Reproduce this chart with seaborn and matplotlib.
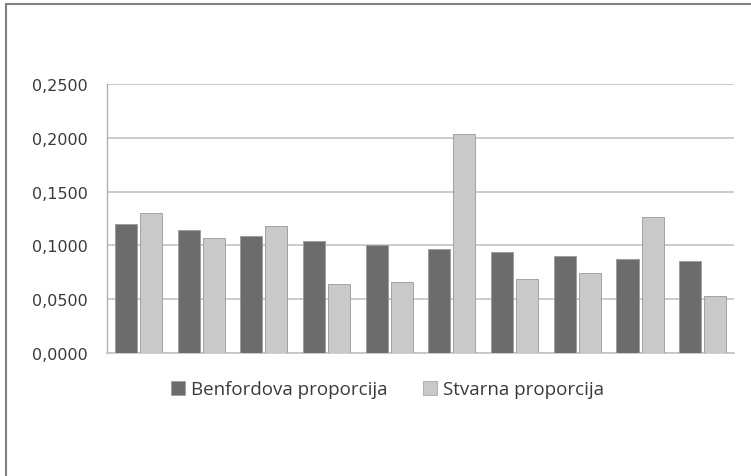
import matplotlib
matplotlib.use("Agg")
import matplotlib.pyplot as plt
from matplotlib.lines import Line2D
import pandas as pd
import seaborn as sns

# Second-digit proportions, digits 0..9
digits = ["0", "1", "2", "3", "4", "5", "6", "7", "8", "9"]
benford = [0.1197, 0.1139, 0.1088, 0.1043, 0.1003, 0.0967, 0.0934, 0.0904, 0.0876, 0.0850]
stvarna = [0.1298, 0.1065, 0.1175, 0.0640, 0.0660, 0.2030, 0.0685, 0.0740, 0.1260, 0.0525]
series = ["Benfordova proporcija", "Stvarna proporcija"]
yticks = [0.0, 0.05, 0.10, 0.15, 0.20, 0.25]

df = pd.DataFrame({
    "digit": digits * 2,
    "value": benford + stvarna,
    "serija": [series[0]] * len(digits) + [series[1]] * len(digits),
})

sns.set_style("white")
plt.rcParams["font.family"] = ["Open Sans", "DejaVu Sans"]

fig = plt.figure(figsize=(7.51, 4.77), dpi=100)
ax = fig.add_axes([0.1425, 0.258, 0.835, 0.564])

colors = ["#6b6c6f", "#c9c9ca"]
sns.barplot(data=df, x="digit", y="value", hue="serija", hue_order=series,
            palette=colors, width=0.8, gap=0.12, ax=ax,
            edgecolor="#9a9a9a", linewidth=0.6, legend=False, zorder=3)

ax.set_ylim(0, 0.25)
ax.set_xlim(-0.5, len(digits) - 0.5)
ax.set_yticks(yticks)
ax.set_yticklabels([f"{t:.4f}".replace(".", ",") for t in yticks],
                   fontsize=11.5, color="#3a3a3a", family="DejaVu Sans")
ax.tick_params(axis="y", length=0, pad=14)
ax.set_xticks([])
ax.set_xlabel("")
ax.set_ylabel("")
ax.grid(axis="y", color="#c4c4c4", linewidth=1.2, zorder=0)
for s in ["top", "right"]:
    ax.spines[s].set_visible(False)
ax.spines["left"].set_color("#b0b0b0")
ax.spines["bottom"].set_color("#c4c4c4")
ax.spines["left"].set_linewidth(1.0)
ax.spines["bottom"].set_linewidth(1.2)

handles = [plt.Rectangle((0, 0), 1, 1, facecolor=c, edgecolor="#9a9a9a", linewidth=0.5)
           for c in colors]
fig.legend(handles, series, loc="center", bbox_to_anchor=(0.516, 0.182),
           ncol=2, frameon=False, fontsize=13.5, handlelength=0.75, handleheight=0.75,
           handletextpad=0.32, columnspacing=1.9, labelcolor="#3a3a3a")

# frame of the original picture (top and left edges)
fig.add_artist(Line2D([0.008, 1.0], [0.990, 0.990], color="#808080", linewidth=1.5))
fig.add_artist(Line2D([0.008, 0.008], [0.0, 0.990], color="#808080", linewidth=1.5))

fig.savefig("out.png", dpi=100)
plt.close(fig)
